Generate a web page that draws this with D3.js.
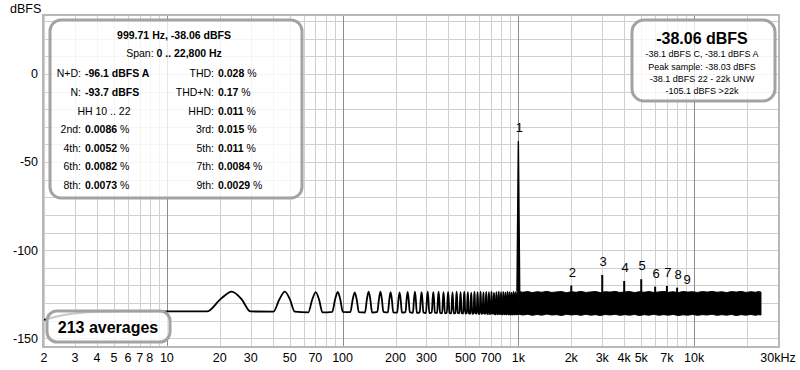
<!DOCTYPE html>
<html><head><meta charset="utf-8">
<script src="https://cdn.jsdelivr.net/npm/d3@7/dist/d3.min.js"></script>
<style>body{margin:0;background:#fff;} svg{display:block;font-family:"Liberation Sans",Arial,sans-serif;}</style>
</head><body><svg id="c" width="800" height="370"></svg>
<script>
// ---------- data ----------
const xTickValues = [2,3,4,5,6,7,8,10,20,30,50,70,100,200,300,500,700,1000,2000,3000,4000,5000,7000,10000,30000];
const xTickText   = ["2","3","4","5","6","7","8","10","20","30","50","70","100","200","300","500","700","1k","2k","3k","4k","5k","7k","10k","30kHz"];
const yTickValues = [0,-50,-100,-150];
const yGridValues = [30,20,10,0,-10,-20,-30,-40,-50,-60,-70,-80,-90,-100,-110,-120,-130,-140,-150];

// start of trace (2..10 Hz)
const startFreq  = [2, 2.6, 4, 6, 10];
const startLevel = [-139.6, -136.8, -135.1, -134.9, -134.8];

// FFT bin lobes below 1 kHz
const binFreq = [23.4,46.9,70.3,93.8,117.2,140.6,164.1,187.5,210.9,234.4,257.8,281.3,304.7,328.1,351.6,375.0,398.4,421.9,445.3,468.8,492.2,515.6,539.1,562.5,585.9,609.4,632.8,656.3,679.7,703.1,726.6,750.0,773.4,796.9,820.3,843.8,867.2,890.6,914.1,937.5,960.9,984.4];
const binPeak = [-123.5,-123.5,-123.8,-123.7,-124.0,-123.5,-123.6,-123.8,-124.0,-123.7,-123.6,-123.9,-123.6,-123.8,-123.5,-123.9,-123.7,-124.0,-123.6,-123.8,-123.5,-123.9,-124.1,-123.6,-123.8,-123.5,-124.0,-123.7,-123.9,-123.6,-124.1,-123.8,-123.5,-123.9,-123.7,-124.0,-123.6,-123.8,-124.1,-123.5,-123.9,-123.7];
const binValley = [-134.8,-134.9,-135.3,-135.0,-135.2,-135.4,-135.0,-135.3,-135.5,-135.2,-135.6,-135.3,-135.7,-135.4,-135.6,-135.8,-135.5,-135.9,-135.6,-135.8,-136.0,-135.7,-136.1,-135.8,-136.0,-136.2,-135.9,-136.1,-136.3,-136.0,-136.2,-136.4,-136.1,-136.3,-136.5,-136.2,-136.4,-136.3,-136.6,-136.2,-136.5,-136.4];

// dense noise band 1k..24k
const bandFreq   = [1000,1060,1130,1200,1280,1360,1450,1550,1650,1760,1880,2000,2130,2270,2420,2580,2750,2930,3120,3330,3550,3780,4030,4300,4580,4880,5200,5540,5900,6290,6700,7140,7610,8110,8640,9210,9810,10450,11140,11870,12650,13480,14360,15300,16300,17370,18510,19720,21010,22390,23200,24000];
const bandTop    = [-123.4,-123.9,-123.5,-124.1,-123.6,-123.9,-123.4,-124.0,-123.7,-123.5,-124.2,-123.6,-123.9,-123.4,-124.0,-123.7,-123.5,-124.1,-123.6,-123.8,-123.4,-124.0,-123.7,-123.5,-124.1,-123.6,-123.9,-123.5,-124.0,-123.7,-123.4,-123.9,-123.6,-124.1,-123.5,-123.8,-123.6,-124.0,-123.5,-123.8,-123.4,-123.9,-123.6,-124.1,-123.5,-123.8,-123.4,-124.0,-123.6,-123.9,-123.5,-123.8];
const bandBottom = [-136.3,-136.8,-136.4,-137.0,-136.5,-136.9,-136.3,-136.8,-136.6,-137.1,-136.4,-136.8,-136.5,-137.0,-136.4,-136.9,-136.6,-137.1,-136.5,-136.8,-136.4,-137.0,-136.6,-136.9,-136.5,-137.1,-136.6,-136.9,-136.4,-137.0,-136.6,-136.9,-136.5,-137.1,-136.7,-136.9,-136.5,-137.0,-136.6,-136.8,-136.4,-137.0,-136.6,-136.9,-136.5,-137.1,-136.6,-136.9,-136.5,-137.0,-136.6,-136.8];

// fundamental + harmonics
const harmFreq  = [999.71,2000,3000,4000,5000,6000,7000,8000,9000];
const harmLevel = [-38.06,-120.1,-114.1,-117.5,-116.5,-120.7,-120.3,-121.3,-124.3];
const harmLabel = ["1","2","3","4","5","6","7","8","9"];

// info boxes
const infoTitle = "999.71 Hz, -38.06 dBFS";
const infoSpanLabel = "Span: ";
const infoSpanValue = "0 .. 22,800 Hz";
const statsLeft  = [["N+D:","-96.1 dBFS A",""],["N:","-93.7 dBFS",""],[null,"HH 10 .. 22",""],["2nd:","0.0086"," %"],["4th:","0.0052"," %"],["6th:","0.0082"," %"],["8th:","0.0073"," %"]];
const statsRight = [["THD:","0.028"," %"],["THD+N:","0.17"," %"],["HHD:","0.011"," %"],["3rd:","0.015"," %"],["5th:","0.011"," %"],["7th:","0.0084"," %"],["9th:","0.0029"," %"]];
const levelTitle = "-38.06 dBFS";
const levelLines = ["-38.1 dBFS C, -38.1 dBFS A","Peak sample: -38.03 dBFS","-38.1 dBFS 22 - 22k UNW","-105.1 dBFS >22k"];
const averagesText = "213 averages";
const yAxisTitle = "dBFS";

// ---------- drawing ----------
const svg = d3.select("#c");
const L = 44, R = 778, T = 16, B = 346;
const x = d3.scaleLog().domain([2, 30000]).range([L, R]);
const y = d3.scaleLinear().domain([-154.4, 32.9]).range([B, T]);

svg.append("rect").attr("width",800).attr("height",370).attr("fill","#fff");

const grid = svg.append("g");
const vgrid = [];
[1,10,100,1000,10000].forEach(d=>{ for(let m=1;m<=9;m++){ const f=m*d; if(f>=2 && f<=30000) vgrid.push({f, major:m===1}); } });
grid.selectAll("line.h").data(yGridValues).join("line")
  .attr("x1",L).attr("x2",R).attr("y1",d=>Math.round(y(d))+0.5).attr("y2",d=>Math.round(y(d))+0.5)
  .attr("stroke","#cfcfcf").attr("stroke-width",1);
grid.selectAll("line.v").data(vgrid).join("line")
  .attr("y1",T).attr("y2",B).attr("x1",d=>Math.round(x(d.f))+0.5).attr("x2",d=>Math.round(x(d.f))+0.5)
  .attr("stroke",d=>d.major?"#8c8c8c":"#cfcfcf").attr("stroke-width",1);

// trace
const line = d3.line().x(d=>x(d[0])).y(d=>y(d[1])).curve(d3.curveMonotoneX);
const pts = startFreq.map((f,i)=>[f,startLevel[i]]);
const lobeHalf = 6.5, lobeShoulder = 3.2, shoulderFrac = 0.62;
binFreq.forEach((f,i)=>{
  const v = binValley[i], p = binPeak[i], s = v + (p - v) * shoulderFrac;
  pts.push([f-lobeHalf,v],[f-lobeShoulder,s],[f,p],[f+lobeShoulder,s],[f+lobeHalf,v]);
});
pts.push([1000, bandBottom[0]]);
svg.append("path").attr("d",line(pts)).attr("fill","none").attr("stroke","#000").attr("stroke-width",1.8).attr("stroke-linejoin","round");

const area = d3.area().x((d,i)=>x(bandFreq[i])).y0((d,i)=>y(bandBottom[i])).y1((d,i)=>y(bandTop[i]));
svg.append("path").attr("d",area(bandFreq)).attr("fill","#000").attr("stroke","#000").attr("stroke-width",1);

// fundamental spike
const f0 = harmFreq[0];
const spike = [[f0-18,bandTop[0]],[f0-5,-60],[f0,harmLevel[0]],[f0+5,-60],[f0+18,bandTop[0]]];
svg.append("path").attr("d",d3.line().x(d=>x(d[0])).y(d=>y(d[1]))(spike)).attr("fill","#000").attr("stroke","#000").attr("stroke-width",1.4);
// harmonics
svg.selectAll("line.harm").data(harmFreq.slice(1)).join("line")
  .attr("x1",d=>x(d)).attr("x2",d=>x(d))
  .attr("y1",y(-125)).attr("y2",(d,i)=>y(harmLevel[i+1]))
  .attr("stroke","#000").attr("stroke-width",2);
svg.selectAll("text.hl").data(harmLabel).join("text")
  .attr("x",(d,i)=>x(harmFreq[i])+1).attr("y",(d,i)=>y(harmLevel[i])-9)
  .attr("text-anchor","middle").attr("font-size",13).attr("fill","#000").text(d=>d);

// frame
svg.append("rect").attr("x",L-1).attr("y",T-1).attr("width",R-L+2).attr("height",B-T+2)
  .attr("fill","none").attr("stroke","#b8b8b8").attr("stroke-width",2);

// axes labels
svg.selectAll("text.xt").data(xTickValues).join("text")
  .attr("x",d=>x(d)).attr("y",358).attr("dy","0.35em").attr("text-anchor","middle")
  .attr("font-size",12.5).attr("fill","#000").text((d,i)=>xTickText[i]);
svg.selectAll("text.yt").data(yTickValues).join("text")
  .attr("x",38).attr("y",d=>y(d)).attr("dy","0.35em").attr("text-anchor","end")
  .attr("font-size",12.5).attr("fill","#000").text(d=>d);
svg.append("text").attr("x",10).attr("y",9).attr("dy","0.35em").attr("font-size",12.5).text(yAxisTitle);

// boxes
function box(x0,y0,w,h,r){
  svg.append("rect").attr("x",x0).attr("y",y0).attr("width",w).attr("height",h).attr("rx",r).attr("ry",r)
    .attr("fill","rgba(255,255,255,0.78)").attr("stroke","#a3a3a3").attr("stroke-width",3);
}
box(50,20,252,178,11);
box(632,20,143,81,12);
box(47,311,123,31,10);

const fs = 10.5;
svg.append("text").attr("x",174).attr("y",35).attr("dy","0.35em").attr("text-anchor","middle")
  .attr("font-size",fs).attr("font-weight","bold").text(infoTitle);
const sp = svg.append("text").attr("x",174).attr("y",53.5).attr("dy","0.35em").attr("text-anchor","middle").attr("font-size",fs);
sp.append("tspan").text(infoSpanLabel);
sp.append("tspan").attr("font-weight","bold").text(infoSpanValue);

const rowY = [73.3,92,111,129.7,148,166.3,185];
function statCol(rows, colonX, centerX){
  rows.forEach((r,i)=>{
    if(r[0]===null){
      svg.append("text").attr("x",centerX).attr("y",rowY[i]).attr("dy","0.35em").attr("text-anchor","middle").attr("font-size",fs).text(r[1]);
      return;
    }
    svg.append("text").attr("x",colonX).attr("y",rowY[i]).attr("dy","0.35em").attr("text-anchor","end").attr("font-size",fs).text(r[0]);
    const t = svg.append("text").attr("x",colonX+4).attr("y",rowY[i]).attr("dy","0.35em").attr("font-size",fs);
    t.append("tspan").attr("font-weight","bold").text(r[1]);
    if(r[2]) t.append("tspan").text(r[2]);
  });
}
statCol(statsLeft, 81, 104);
statCol(statsRight, 214, 225);

svg.append("text").attr("x",702).attr("y",38).attr("dy","0.35em").attr("text-anchor","middle")
  .attr("font-size",16).attr("font-weight","bold").text(levelTitle);
const lY = [54.3,67.3,79.3,91];
svg.selectAll("text.ll").data(levelLines).join("text")
  .attr("x",702).attr("y",(d,i)=>lY[i]).attr("dy","0.35em").attr("text-anchor","middle").attr("font-size",9).text(d=>d);

svg.append("text").attr("x",108).attr("y",327.5).attr("dy","0.35em").attr("text-anchor","middle")
  .attr("font-size",16).attr("font-weight","bold").text(averagesText);
</script></body></html>
